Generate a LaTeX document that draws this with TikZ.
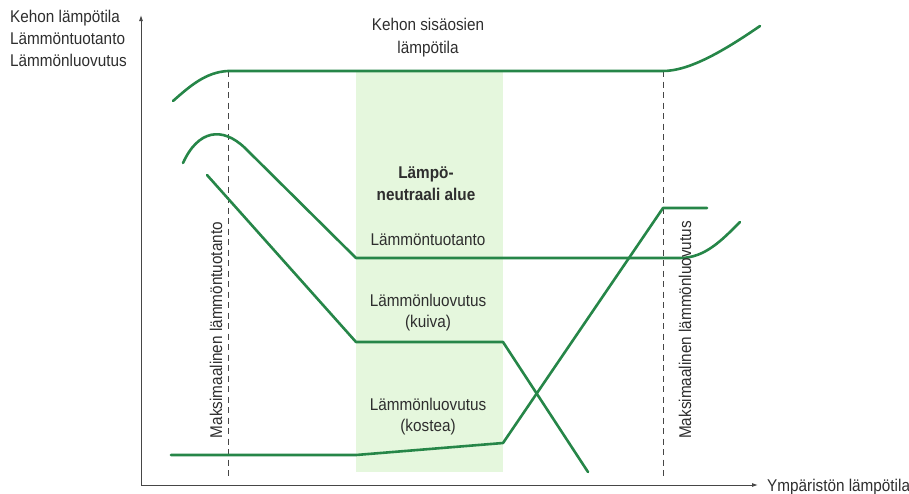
\documentclass[tikz,border=0pt]{standalone}
\usepackage{fontspec}
\setmainfont{Liberation Sans}[FakeStretch=0.9]
\usetikzlibrary{arrows.meta}
\definecolor{curvegreen}{RGB}{38,134,72}
\definecolor{bandgreen}{RGB}{229,247,221}
\definecolor{axisgray}{RGB}{70,70,70}
\tikzset{
  curve/.style={curvegreen,line width=2.6pt,line join=round,line cap=round},
  guide/.style={axisgray,line width=0.9pt,dash pattern=on 6pt off 4.5pt},
  axisline/.style={axisgray,line width=0.9pt,-{Latex[length=6pt,width=4pt]}},
  lbl/.style={font=\fontsize{17}{21}\selectfont,text=black!82,inner sep=0pt,align=center},
}
\begin{document}
\begin{tikzpicture}[x=1pt,y=-1pt]
\useasboundingbox (0,0) rectangle (909,493);
% thermoneutral band
\fill[bandgreen] (356,71) rectangle (503,472);
% coordinates
\coordinate (o) at (141,485);
\coordinate (ytip) at (141,15);
\coordinate (xtip) at (758,485);
\coordinate (d1t) at (228,71);
\coordinate (d1b) at (228,478);
\coordinate (d2t) at (663,71);
\coordinate (d2b) at (663,478);
% axes
\draw[axisline] (o) -- (ytip);
\draw[axisline] (o) -- (xtip);
% dashed guides
\draw[guide] (d1t) -- (d1b);
\draw[guide] (d2t) -- (d2b);
% core temperature
\coordinate (c0) at (173,101);
\coordinate (c3) at (760,26);
\draw[curve] (c0) .. controls (190,86) and (206,72) .. (d1t) -- (d2t)
  .. controls (690,71) and (725,50) .. (c3);
% heat production
\coordinate (p0) at (183,163);
\coordinate (p1) at (245,148);
\coordinate (p2) at (356,258);
\coordinate (p3) at (680,258);
\coordinate (p4) at (740,222);
\draw[curve] (p0) .. controls (198,130) and (222,126) .. (p1) -- (p2) -- (p3)
  .. controls (705,258) and (722,240) .. (p4);
% heat loss dry
\coordinate (k0) at (207,175);
\coordinate (k1) at (356,342);
\coordinate (k2) at (503,342);
\coordinate (k3) at (588,472);
\draw[curve] (k0) -- (k1) -- (k2) -- (k3);
% heat loss wet
\coordinate (w0) at (171,455);
\coordinate (w1) at (356,455);
\coordinate (w2) at (503,443);
\coordinate (w3) at (663,208);
\coordinate (w4) at (707,208);
\draw[curve] (w0) -- (w1) -- (w2) -- (w3) -- (w4);
% axis labels
\node[lbl,anchor=west] (ylab1) at (10,18) {Kehon lämpötila};
\node[lbl,anchor=west] (ylab2) at (10,39) {Lämmöntuotanto};
\node[lbl,anchor=west] (ylab3) at (10,60) {Lämmönluovutus};
\node[lbl,anchor=west] (xlab) at (767,487) {Ympäristön lämpötila};
% top label
\node[lbl,font=\fontsize{17}{23}\selectfont] (core) at (428,38) {Kehon sisäosien\\lämpötila};
% band labels
\node[lbl,font=\fontsize{17}{22}\selectfont\bfseries] (tn) at (426,184) {Lämpö-\\neutraali alue};
\node[lbl] (prod) at (428,240) {Lämmöntuotanto};
\node[lbl] (dry) at (428,313) {Lämmönluovutus\\(kuiva)};
\node[lbl] (wet) at (428,417) {Lämmönluovutus\\(kostea)};
% vertical labels
\node[lbl,rotate=90] (maxprod) at (216,330) {Maksimaalinen lämmöntuotanto};
\node[lbl,rotate=90] (maxloss) at (685,330) {Maksimaalinen lämmönluovutus};
\end{tikzpicture}
\end{document}
